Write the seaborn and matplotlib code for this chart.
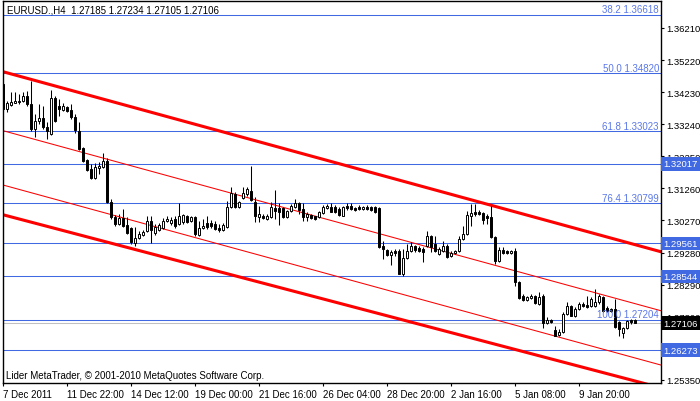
import numpy as np
import pandas as pd
import matplotlib
matplotlib.use("Agg")
import matplotlib.pyplot as plt
import seaborn as sns

# === EURUSD H4 candles ===
opens = [1.3448, 1.3371, 1.3383, 1.3390, 1.3393, 1.3396, 1.3411, 1.3386, 1.3309, 1.3334,
         1.3343, 1.3316, 1.3294, 1.3405, 1.3380, 1.3368, 1.3377, 1.3368, 1.3346, 1.3303,
         1.3251, 1.3214, 1.3186, 1.3158, 1.3189, 1.3192, 1.3211, 1.3084, 1.3038, 1.3016,
         1.3035, 1.3013, 1.3004, 1.2957, 1.2973, 1.2982, 1.2994, 1.3025, 1.2988, 1.2997,
         1.3004, 1.3026, 1.3020, 1.3032, 1.3016, 1.3023, 1.3041, 1.3026, 1.3038, 1.2982,
         1.3004, 1.3019, 1.3019, 1.3016, 1.3004, 1.2998, 1.3007, 1.3069, 1.3109, 1.3069,
         1.3097, 1.3109, 1.3118, 1.3084, 1.3038, 1.3041, 1.3032, 1.3038, 1.3066, 1.3066,
         1.3066, 1.3038, 1.3056, 1.3069, 1.3081, 1.3062, 1.3038, 1.3044, 1.3041, 1.3038,
         1.3050, 1.3066, 1.3069, 1.3069, 1.3062, 1.3041, 1.3072, 1.3072, 1.3066, 1.3069,
         1.3062, 1.3069, 1.3069, 1.3069, 1.3066, 1.2948, 1.2936, 1.2920, 1.2933, 1.2933,
         1.2862, 1.2911, 1.2933, 1.2948, 1.2942, 1.2939, 1.2948, 1.2979, 1.2954, 1.2923,
         1.2933, 1.2948, 1.2917, 1.2926, 1.2933, 1.2970, 1.2985, 1.3041, 1.3053, 1.3053,
         1.3050, 1.3041, 1.3038, 1.2976, 1.2902, 1.2936, 1.2933, 1.2926, 1.2933, 1.2837,
         1.2794, 1.2782, 1.2788, 1.2794, 1.2770, 1.2794, 1.2711, 1.2720, 1.2689, 1.2674,
         1.2683, 1.2738, 1.2763, 1.2732, 1.2754, 1.2769, 1.2766, 1.2763, 1.2763, 1.2775,
         1.2791, 1.2757, 1.2754, 1.2754, 1.2714, 1.2680, 1.2695, 1.2720, 1.27185]
highs = [1.3452, 1.3396, 1.3424, 1.3424, 1.3417, 1.3424, 1.3427, 1.3457, 1.3356, 1.3386,
         1.3380, 1.3331, 1.3430, 1.3411, 1.3402, 1.3390, 1.3380, 1.3386, 1.3355, 1.3331,
         1.3254, 1.3217, 1.3201, 1.3204, 1.3208, 1.3235, 1.3220, 1.3093, 1.3044, 1.3047,
         1.3062, 1.3038, 1.3007, 1.3007, 1.2994, 1.2997, 1.3041, 1.3041, 1.3016, 1.3019,
         1.3035, 1.3041, 1.3038, 1.3041, 1.3081, 1.3047, 1.3044, 1.3041, 1.3040, 1.3026,
         1.3032, 1.3041, 1.3029, 1.3026, 1.3016, 1.3019, 1.3087, 1.3130, 1.3115, 1.3087,
         1.3130, 1.3130, 1.3195, 1.3099, 1.3072, 1.3047, 1.3047, 1.3084, 1.3121, 1.3081,
         1.3069, 1.3059, 1.3078, 1.3093, 1.3084, 1.3081, 1.3053, 1.3047, 1.3041, 1.3056,
         1.3075, 1.3078, 1.3081, 1.3075, 1.3069, 1.3072, 1.3081, 1.3081, 1.3069, 1.3075,
         1.3072, 1.3075, 1.3072, 1.3072, 1.3069, 1.2963, 1.2939, 1.2936, 1.2939, 1.2939,
         1.2939, 1.2954, 1.2960, 1.2951, 1.2948, 1.2945, 1.2994, 1.2982, 1.2979, 1.2945,
         1.2963, 1.2954, 1.2933, 1.2936, 1.2979, 1.3010, 1.3056, 1.3078, 1.3078, 1.3059,
         1.3053, 1.3047, 1.3072, 1.2979, 1.2945, 1.2945, 1.2936, 1.2936, 1.2942, 1.2840,
         1.2800, 1.2794, 1.2800, 1.2797, 1.2806, 1.2800, 1.2729, 1.2723, 1.2702, 1.2692,
         1.2744, 1.2775, 1.2766, 1.2760, 1.2775, 1.2775, 1.2794, 1.2791, 1.2815, 1.2800,
         1.2794, 1.2763, 1.2757, 1.2785, 1.2717, 1.2698, 1.2720, 1.2723, 1.27234]
lows = [1.3362, 1.3362, 1.3380, 1.3389, 1.3386, 1.3393, 1.3380, 1.3303, 1.3285, 1.3325,
        1.3309, 1.3278, 1.3292, 1.3332, 1.3349, 1.3365, 1.3362, 1.3340, 1.3297, 1.3246,
        1.3208, 1.3180, 1.3155, 1.3155, 1.3171, 1.3189, 1.3082, 1.3032, 1.3010, 1.3013,
        1.3007, 1.2985, 1.2954, 1.2948, 1.2970, 1.2979, 1.2991, 1.2957, 1.2982, 1.2994,
        1.3001, 1.3023, 1.3014, 1.3004, 1.3013, 1.3016, 1.3020, 1.3023, 1.2979, 1.2979,
        1.3001, 1.3001, 1.3004, 1.2997, 1.2991, 1.2994, 1.3004, 1.3066, 1.3066, 1.3066,
        1.3093, 1.3103, 1.3087, 1.3023, 1.3023, 1.3032, 1.3029, 1.3035, 1.3032, 1.3013,
        1.3036, 1.3035, 1.3053, 1.3066, 1.3047, 1.3026, 1.3026, 1.3032, 1.3029, 1.3035,
        1.3047, 1.3062, 1.3053, 1.3050, 1.3041, 1.3040, 1.3059, 1.3059, 1.3056, 1.3059,
        1.3059, 1.3059, 1.3056, 1.3050, 1.2942, 1.2908, 1.2917, 1.2890, 1.2917, 1.2861,
        1.2856, 1.2908, 1.2930, 1.2930, 1.2930, 1.2899, 1.2945, 1.2930, 1.2930, 1.2920,
        1.2930, 1.2911, 1.2914, 1.2923, 1.2930, 1.2967, 1.2982, 1.3010, 1.3041, 1.3044,
        1.3016, 1.3016, 1.2973, 1.2893, 1.2899, 1.2923, 1.2923, 1.2923, 1.2825, 1.2785,
        1.2779, 1.2779, 1.2785, 1.2770, 1.2767, 1.2695, 1.2708, 1.2711, 1.2670, 1.2671,
        1.2680, 1.2735, 1.2732, 1.2729, 1.2751, 1.2760, 1.2757, 1.2760, 1.2760, 1.2769,
        1.2744, 1.2744, 1.2744, 1.2695, 1.2671, 1.2664, 1.2692, 1.2708, 1.27105]
closes = [1.3371, 1.3390, 1.3392, 1.3396, 1.3396, 1.3411, 1.3386, 1.3309, 1.3334, 1.3343,
          1.3316, 1.3303, 1.3405, 1.3334, 1.3371, 1.3380, 1.3365, 1.3346, 1.3306, 1.3248,
          1.3211, 1.3183, 1.3158, 1.3192, 1.3195, 1.3211, 1.3084, 1.3038, 1.3016, 1.3035,
          1.3010, 1.2988, 1.2961, 1.2973, 1.2985, 1.2991, 1.3025, 1.2997, 1.3007, 1.3013,
          1.3025, 1.3032, 1.3029, 1.3010, 1.3041, 1.3044, 1.3023, 1.3038, 1.2985, 1.3004,
          1.3010, 1.3007, 1.3010, 1.3001, 1.2998, 1.3013, 1.3069, 1.3112, 1.3069, 1.3084,
          1.3112, 1.3124, 1.3090, 1.3041, 1.3047, 1.3035, 1.3041, 1.3069, 1.3056, 1.3053,
          1.3038, 1.3056, 1.3072, 1.3081, 1.3059, 1.3038, 1.3047, 1.3035, 1.3032, 1.3053,
          1.3069, 1.3072, 1.3053, 1.3053, 1.3044, 1.3069, 1.3066, 1.3062, 1.3059, 1.3062,
          1.3069, 1.3062, 1.3059, 1.3053, 1.2945, 1.2939, 1.2920, 1.2930, 1.2926, 1.2862,
          1.2911, 1.2933, 1.2948, 1.2936, 1.2933, 1.2930, 1.2979, 1.2945, 1.2933, 1.2939,
          1.2948, 1.2914, 1.2926, 1.2933, 1.2970, 1.2985, 1.3044, 1.3050, 1.3047, 1.3047,
          1.3029, 1.3035, 1.2976, 1.2902, 1.2936, 1.2926, 1.2926, 1.2933, 1.2837, 1.2788,
          1.2782, 1.2791, 1.2794, 1.2773, 1.2791, 1.2711, 1.2720, 1.2714, 1.2671, 1.2683,
          1.2738, 1.2763, 1.2732, 1.2754, 1.2769, 1.2763, 1.2760, 1.2785, 1.2775, 1.2794,
          1.2748, 1.2748, 1.2748, 1.2698, 1.2692, 1.2695, 1.2717, 1.2714, 1.27106]

# === Axis labels ===
time_ticks = [0, 16, 32, 48, 64, 80, 96, 112, 128, 144]
time_labels = ["7 Dec 2011", "11 Dec 22:00", "14 Dec 12:00", "19 Dec 00:00", "21 Dec 16:00",
               "26 Dec 04:00", "28 Dec 20:00", "2 Jan 16:00", "5 Jan 08:00", "9 Jan 20:00"]
price_ticks = [1.36210, 1.35220, 1.34230, 1.33240, 1.32250, 1.31260, 1.30270,
               1.29280, 1.28290, 1.27300, 1.25350]

# === Objects on the chart ===
fib_levels = ["38.2", "50.0", "61.8", "76.4", "100.0"]
fib_prices = [1.36618, 1.34820, 1.33023, 1.30799, 1.27204]
hline_prices = [1.32017, 1.29561, 1.28544, 1.26273]
bid_price = 1.27106
header = "EURUSD.,H4  1.27185 1.27234 1.27105 1.27106"
footer = "Lider MetaTrader, \u00a9 2001-2010 MetaQuotes Software Corp."

# channel lines: (bar, price) at both ends, width in pt
channel_bars = [-1, 165]
channel_lines = {
    "upper": ([1.34892, 1.29285], 2.2),
    "mid_a": ([1.33072, 1.27465], 0.75),
    "mid_b": ([1.31396, 1.25789], 0.75),
    "lower": ([1.30477, 1.25087], 2.2),
}

sns.set_theme(style="white")
plt.rcParams["font.family"] = ["Liberation Sans", "DejaVu Sans"]

BLUE = "#4169E1"
fig = plt.figure(figsize=(7, 4.02), dpi=100)
ax = fig.add_axes([3 / 700, 18 / 402, 658 / 700, 382 / 402])

df = pd.DataFrame({"open": opens, "high": highs, "low": lows, "close": closes})
df["bar"] = np.arange(len(df))
df["bull"] = df["close"] >= df["open"]

# horizontal levels
for p in fib_prices + hline_prices:
    ax.axhline(p, color=BLUE, lw=0.75, zorder=1)
ax.axhline(bid_price, color="#c0c0c0", lw=0.75, zorder=1)

# channel
for name, (prices, lw) in channel_lines.items():
    sns.lineplot(x=channel_bars, y=prices, ax=ax, color="red", lw=lw, zorder=2)

# candles
ax.vlines(df["bar"], df["low"], df["high"], color="black", lw=0.75, zorder=3)
body_lo = df[["open", "close"]].min(axis=1)
body_h = (df["close"] - df["open"]).abs().clip(lower=0.00004)
ax.bar(df["bar"], body_h, bottom=body_lo, width=0.55,
       color=np.where(df["bull"], "white", "black"), edgecolor="black",
       linewidth=0.7, zorder=4)

ax.set_xlim(-0.075, 164.425)
ax.set_ylim(1.25255, 1.37043)

ax.yaxis.tick_right()
ax.set_yticks(price_ticks)
ax.set_yticklabels([f"{p:.5f}" for p in price_ticks])
ax.set_xticks(time_ticks)
ax.set_xticklabels(time_labels, ha="left")
ax.tick_params(axis="both", direction="out", length=2.5, width=0.8, labelsize=7,
               colors="black", pad=1.5)
ax.tick_params(axis="y", right=True, left=False, labelsize=6.8, pad=1.0)
ax.tick_params(axis="x", bottom=True)
for s in ax.spines.values():
    s.set_color("black")
    s.set_linewidth(1)
ax.set_xlabel("")
ax.set_ylabel("")

# fibo labels
for lvl, p in zip(fib_levels, fib_prices):
    ax.annotate(f"{lvl} {p:.5f}", xy=(1, p), xycoords=("axes fraction", "data"),
                xytext=(-1.5, 0.3), textcoords="offset points", ha="right", va="bottom",
                fontsize=7, color="#5b78e8", zorder=6)

# price boxes on the scale
for p in hline_prices:
    ax.annotate(f"{p:.5f}", xy=(1, p), xycoords=("axes fraction", "data"),
                xytext=(2.0, 0), textcoords="offset points", ha="left", va="center",
                fontsize=6.8, color="white", zorder=7, annotation_clip=False,
                bbox=dict(boxstyle="square,pad=0.25", fc=BLUE, ec="none"))
ax.annotate(f"{bid_price:.5f}", xy=(1, bid_price), xycoords=("axes fraction", "data"),
            xytext=(2.0, 0), textcoords="offset points", ha="left", va="center",
            fontsize=6.8, color="white", zorder=7, annotation_clip=False,
            bbox=dict(boxstyle="square,pad=0.25", fc="black", ec="none"))

ax.text(0.006, 0.977, header, transform=ax.transAxes, fontsize=7, color="black",
        ha="left", va="center", zorder=8)
ax.text(0.005, 0.02, footer, transform=ax.transAxes, fontsize=7, color="black",
        ha="left", va="center", zorder=8)

fig.savefig("out.png", dpi=100)
